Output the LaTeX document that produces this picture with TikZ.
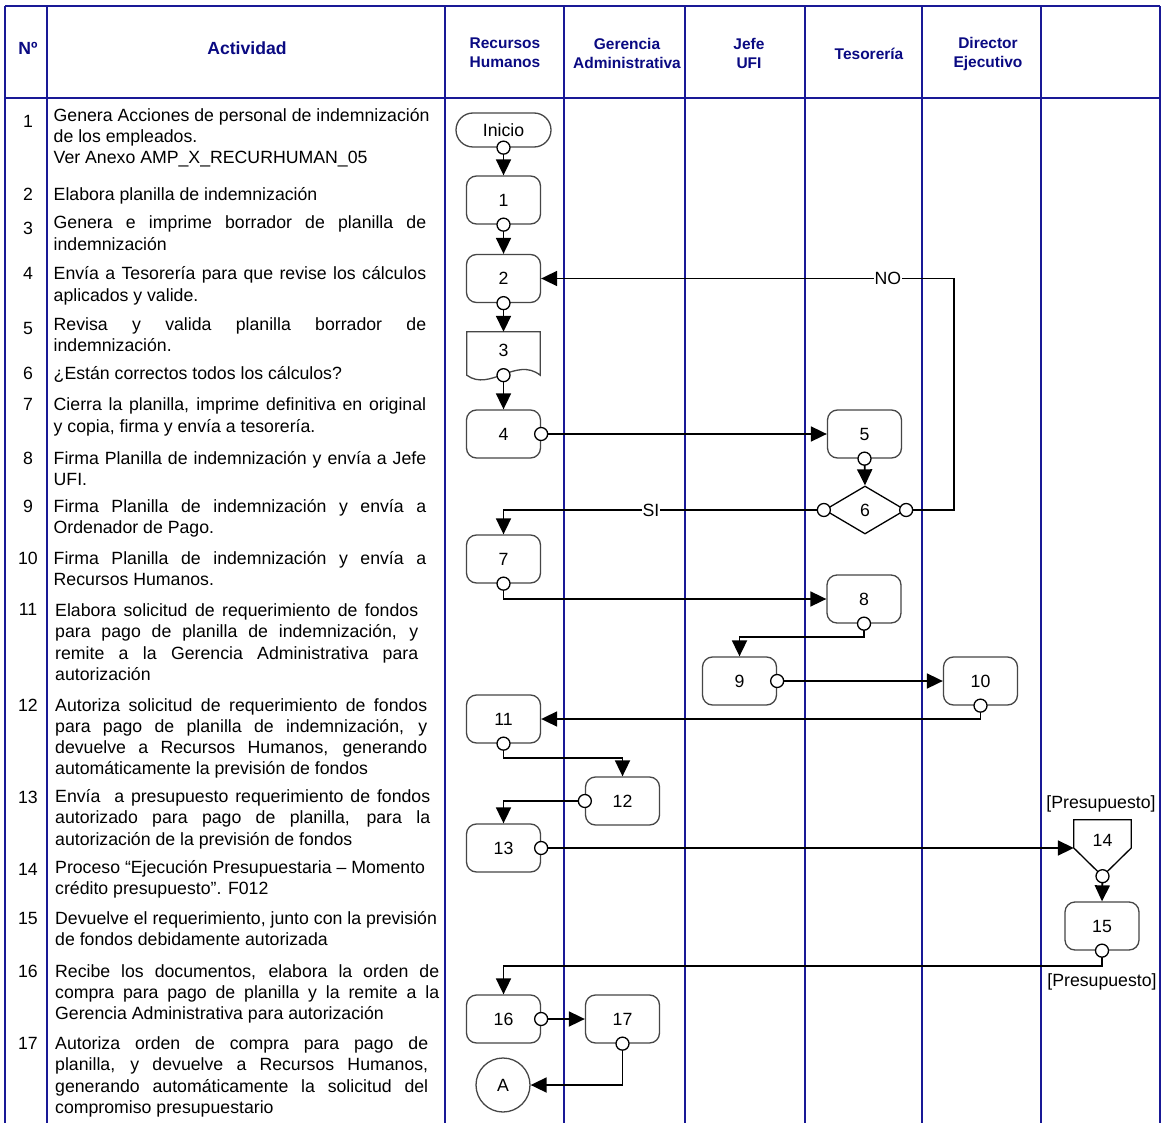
\documentclass[tikz,border=0pt]{standalone}
\usepackage{fontspec}
\setmainfont{Liberation Sans}
\usetikzlibrary{arrows.meta,shapes.geometric,calc}

\definecolor{laneblue}{RGB}{25,25,150}
\definecolor{headblue}{RGB}{10,10,130}
\definecolor{boxgray}{RGB}{70,70,70}

\tikzset{
  laneline/.style={draw=laneblue, line width=1.6pt},
  head/.style={text=headblue, font=\bfseries\fontsize{15.5}{19}\selectfont, align=center, inner sep=0pt},
  bighead/.style={text=headblue, font=\bfseries\fontsize{17.6}{21}\selectfont, inner sep=0pt},
  body/.style={font=\fontsize{17.7}{21}\selectfont, inner sep=0pt, anchor=base west},
  num/.style={font=\fontsize{17.7}{21}\selectfont, inner sep=0pt},
  task/.style={draw=boxgray, line width=1.3pt, rounded corners=10pt, minimum width=74pt,
               minimum height=48pt, inner sep=0pt, fill=white, font=\fontsize{17.7}{21}\selectfont},
  flow/.style={draw=black, line width=1.8pt, -{Triangle[length=16pt,width=15pt]}},
  knob/.style={draw=black, line width=1.3pt, fill=white},
  tag/.style={fill=white, inner sep=1pt, font=\fontsize{17.7}{21}\selectfont},
}

% activity text lines: justified (stretched to a width) or plain
\newcounter{ln}
\newcommand{\jline}[4]{\stepcounter{ln}\node[body] (ln\theln) at (#1,#2+6.5) {\makebox[#3pt][s]{#4}};}
\newcommand{\pline}[3]{\stepcounter{ln}\node[body] (ln\theln) at (#1,#2+6.5) {#3};}
\newcommand{\knobat}[1]{\draw[knob] (#1) circle (6.5pt);}

\begin{document}
\begin{tikzpicture}[x=1pt,y=-1pt]
\fill[white] (0,0) rectangle (1162,1123);
\useasboundingbox (0,0) rectangle (1162,1123);

% table frame
\draw[laneline] (5,6) -- (1160,6);
\draw[laneline] (5,98) -- (1160,98);
\foreach \xx in {5,47,445,564,685,805,922,1041,1160}
  {\draw[laneline] (\xx,6) -- (\xx,1123);}

% header
\node[bighead] (hno) at (28,48) {Nº};
\node[bighead] (hact) at (247,48) {Actividad};
\node[head] (hrh) at (505,53) {Recursos\\Humanos};
\node[head] (hga) at (627,53) {Gerencia\\Administrativa};
\node[head] (hufi) at (749,53) {Jefe\\UFI};
\node[head] (htes) at (869,53.5) {Tesorería};
\node[head] (hdir) at (988,53.5) {Director\\Ejecutivo};

% step numbers
\node[num] (r1) at (28,121) {1};
\node[num] (r2) at (28,194) {2};
\node[num] (r3) at (28,228) {3};
\node[num] (r4) at (28,273) {4};
\node[num] (r5) at (28,328) {5};
\node[num] (r6) at (28,373) {6};
\node[num] (r7) at (28,404) {7};
\node[num] (r8) at (28,458) {8};
\node[num] (r9) at (28,506) {9};
\node[num] (r10) at (28,558) {10};
\node[num] (r11) at (28,609) {11};
\node[num] (r12) at (28,705) {12};
\node[num] (r13) at (28,797) {13};
\node[num] (r14) at (28,869) {14};
\node[num] (r15) at (28,918) {15};
\node[num] (r16) at (28,971) {16};
\node[num] (r17) at (28,1043) {17};

% activity descriptions
\pline{53.5}{115}{Genera Acciones de personal de indemnización}
\pline{53.5}{136}{de los empleados.}
\pline{53.5}{157}{Ver Anexo AMP\_X\_RECURHUMAN\_05}
\pline{53.5}{194}{Elabora planilla de indemnización}
\jline{53.5}{222}{372.5}{Genera e imprime borrador de planilla de}
\pline{53.5}{244}{indemnización}
\jline{53.5}{273}{372.5}{Envía a Tesorería para que revise los cálculos}
\pline{53.5}{295}{aplicados y valide.}
\jline{53.5}{324}{372.5}{Revisa y valida planilla borrador de}
\pline{53.5}{345}{indemnización.}
\pline{53.5}{373}{¿Están correctos todos los cálculos?}
\jline{53.5}{404}{372.5}{Cierra la planilla, imprime definitiva en original}
\pline{53.5}{426}{y copia, firma y envía a tesorería.}
\jline{53.5}{458}{372.5}{Firma Planilla de indemnización y envía a Jefe}
\pline{53.5}{479}{UFI.}
\jline{53.5}{506}{372.5}{Firma Planilla de indemnización y envía a}
\pline{53.5}{527}{Ordenador de Pago.}
\jline{53.5}{558}{372.5}{Firma Planilla de indemnización y envía a}
\pline{53.5}{579}{Recursos Humanos.}
\jline{55}{610}{363}{Elabora solicitud de requerimiento de fondos}
\jline{55}{631}{363}{para pago de planilla de indemnización, y}
\jline{55}{653}{363}{remite a la Gerencia Administrativa para}
\pline{55}{674}{autorización}
\jline{55}{705}{372}{Autoriza solicitud de requerimiento de fondos}
\jline{55}{726}{372}{para pago de planilla de indemnización, y}
\jline{55}{747}{372}{devuelve a Recursos Humanos, generando}
\pline{55}{768}{automáticamente la previsión de fondos}
\jline{55}{796}{375}{Envía~ a presupuesto requerimiento de fondos}
\jline{55}{817}{375}{autorizado para pago de planilla, para la}
\pline{55}{839}{autorización de la previsión de fondos}
\pline{55}{867}{Proceso “Ejecución Presupuestaria – Momento}
\pline{55}{888}{crédito presupuesto”. F012}
\pline{55}{918}{Devuelve el requerimiento, junto con la previsión}
\pline{55}{939}{de fondos debidamente autorizada}
\jline{55}{971}{384}{Recibe los documentos, elabora la orden de}
\jline{55}{992}{384}{compra para pago de planilla y la remite a la}
\pline{55}{1013}{Gerencia Administrativa para autorización}
\jline{55}{1043}{373}{Autoriza orden de compra para pago de}
\jline{55}{1064}{373}{planilla, y devuelve a Recursos Humanos,}
\jline{55}{1086}{373}{generando automáticamente la solicitud del}
\pline{55}{1107}{compromiso presupuestario}

% flowchart symbols
\node[task, rounded corners=17pt, minimum width=95pt, minimum height=34pt] (ini) at (503.5,130) {Inicio};
\node[task] (n1) at (503.5,200) {1};
\node[task] (n2) at (503.5,278.5) {2};
\node[minimum width=73pt, minimum height=43pt, inner sep=0pt] (n3) at (503.5,353.5) {};
\draw[draw=boxgray, line width=1.3pt, fill=white]
  (n3.north west) -- (n3.north east) -- (n3.south east)
  .. controls ($(n3.south east)+(-24,-19)$) and ($(n3.south west)+(23,17)$) .. (n3.south west) -- cycle;
\node[num] (n3t) at (503.5,350) {3};
\node[task] (n4) at (503.5,434) {4};
\node[task] (n5) at (864.5,434) {5};
\node[diamond, draw=black, line width=1.3pt, fill=white, minimum width=81pt, minimum height=48pt,
      inner sep=0pt, font=\fontsize{17.7}{21}\selectfont] (n6) at (865,510) {6};
\node[task] (n7) at (503.5,559) {7};
\node[task] (n8) at (864,599) {8};
\node[task] (n9) at (739.5,681) {9};
\node[task] (n10) at (980.5,681) {10};
\node[task] (n11) at (503.5,719) {11};
\node[task] (n12) at (622.5,801) {12};
\node[task] (n13) at (503.5,848) {13};
\node[minimum width=57pt, minimum height=56pt, inner sep=0pt] (n14) at (1102.5,848) {};
\draw[draw=black, line width=1.3pt, fill=white]
  (n14.north west) -- (n14.north east) -- (n14.east) -- (n14.south) -- (n14.west) -- cycle;
\node[num] (n14t) at (1102.5,840) {14};
\node[num] (pres1) at (1101,804) {[Presupuesto]};
\node[task] (n15) at (1102,926) {15};
\node[num] (pres2) at (1102,982) {[Presupuesto]};
\node[task] (n16) at (503.5,1019) {16};
\node[task] (n17) at (622.5,1019) {17};
\node[circle, draw=boxgray, line width=1.3pt, minimum size=54pt, inner sep=0pt,
      font=\fontsize{17.7}{21}\selectfont] (na) at (503,1085) {A};

% connectors
\coordinate (noturn) at (954,510);
\draw[flow] (ini.south) -- (n1.north);
\draw[flow] (n1.south) -- (n2.north);
\draw[flow] (n2.south) -- (n3.north);
\draw[flow] (n3.south) -- (n4.north);
\draw[flow] (n4.east) -- (n5.west);
\draw[flow] (n5.south) -- (n6.north);
\draw[flow] (n6.west) -| node[tag, pos=0.27] {SI} (n7.north);
\draw[flow] (n6.east) -- (noturn) |- node[tag, pos=0.58] {NO} (n2.east);
\draw[flow] (n7.south) |- (n8.west);
\draw[flow] (n8.south) -- ++(0,13.5) -| (n9.north);
\draw[flow] (n9.east) -- (n10.west);
\draw[flow] (n10.south) |- (n11.east);
\draw[flow] (n11.south) -- ++(0,14) -| (n12.north);
\draw[flow] (n12.west) -| (n13.north);
\draw[flow] (n13.east) -- (n14.west);
\draw[flow] (n14.south) -- (n15.north);
\draw[flow] (n15.south) -- ++(0,15) -| (n16.north);
\draw[flow] (n16.east) -- (n17.west);
\draw[flow] (n17.south) |- (na.east);

% connector start marks
\foreach \p in {ini.south,n1.south,n2.south,n3.south,n4.east,n5.south,n6.west,n6.east,
                n7.south,n8.south,n9.east,n10.south,n11.south,n12.west,n13.east,
                n14.south,n15.south,n16.east,n17.south}
  {\knobat{\p}}
\end{tikzpicture}
\end{document}
